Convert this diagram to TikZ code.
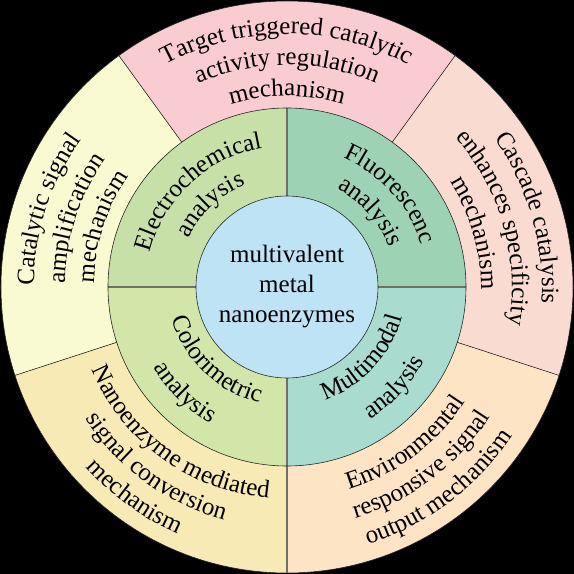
\documentclass[tikz,border=0pt]{standalone}
\usepackage{fontspec}
\setmainfont{Liberation Serif}
\usetikzlibrary{decorations.text}

\definecolor{targetpink}{RGB}{248,204,209}
\definecolor{cascadepeach}{RGB}{250,219,209}
\definecolor{envorange}{RGB}{253,228,196}
\definecolor{nanoyellow}{RGB}{247,234,181}
\definecolor{catalyticyellow}{RGB}{250,250,210}
\definecolor{electrogreen}{RGB}{199,224,167}
\definecolor{fluorgreen}{RGB}{158,210,180}
\definecolor{colorigreen}{RGB}{211,230,169}
\definecolor{multiteal}{RGB}{169,220,206}
\definecolor{coreblue}{RGB}{190,227,245}
\definecolor{divgrey}{RGB}{110,112,105}

\newcommand\ringfont{\fontsize{25}{30}\selectfont}

\tikzset{
  arctext/.style={decorate, decoration={text along path, text align=center, text={|\ringfont|#1}}},
  rim/.style={draw=black!85, line width=0.6pt},
  divider/.style={draw=divgrey, line width=1.2pt},
}

\begin{document}
\begin{tikzpicture}[x=1pt, y=1pt]
    \fill[black] (-287,-287) rectangle (287,287);
    \useasboundingbox (-287,-287) rectangle (287,287);

    % outer sectors
    \fill[targetpink] (0,0) -- (54:286) arc[start angle=54, end angle=126, radius=286] -- cycle;
    \fill[catalyticyellow] (0,0) -- (126:286) arc[start angle=126, end angle=198, radius=286] -- cycle;
    \fill[nanoyellow] (0,0) -- (198:286) arc[start angle=198, end angle=270, radius=286] -- cycle;
    \fill[envorange] (0,0) -- (270:286) arc[start angle=270, end angle=342, radius=286] -- cycle;
    \fill[cascadepeach] (0,0) -- (-18:286) arc[start angle=-18, end angle=54, radius=286] -- cycle;
    \draw[rim] (0,0) circle (286);
    \draw[rim] (54:179) -- (54:286);
    \draw[rim] (126:179) -- (126:286);
    \draw[rim] (198:179) -- (198:286);
    \draw[divider] (270:179) -- (270:286);
    \draw[rim] (342:179) -- (342:286);

    % middle ring
    \fill[fluorgreen] (0,0) -- (0:179) arc[start angle=0, end angle=90, radius=179] -- cycle;
    \fill[electrogreen] (0,0) -- (90:179) arc[start angle=90, end angle=180, radius=179] -- cycle;
    \fill[colorigreen] (0,0) -- (180:179) arc[start angle=180, end angle=270, radius=179] -- cycle;
    \fill[multiteal] (0,0) -- (270:179) arc[start angle=270, end angle=360, radius=179] -- cycle;
    \draw[divider] (-179,0) -- (179,0);
    \draw[divider] (0,-179) -- (0,179);
    \draw[rim] (0,0) circle (179);

    % core
    \fill[coreblue] (0,0) circle (91);
    \draw[rim] (0,0) circle (91);
    \node[align=center, inner sep=0pt, font=\ringfont] (core) at (0,0) {multivalent\\metal\\nanoenzymes};

    % outer texts
    \path[arctext={Target triggered catalytic}] (126:253) arc[start angle=126, end angle=54, radius=253];
    \path[arctext={activity regulation}] (126:222) arc[start angle=126, end angle=54, radius=222];
    \path[arctext={mechanism}] (126:191) arc[start angle=126, end angle=54, radius=191];

    \path[arctext={Catalytic signal}] (198:253) arc[start angle=198, end angle=126, radius=253];
    \path[arctext={amplification}] (198:222) arc[start angle=198, end angle=126, radius=222];
    \path[arctext={mechanism}] (198:193) arc[start angle=198, end angle=126, radius=193];

    \path[arctext={Cascade catalysis}] (52:255) arc[start angle=52, end angle=-20, radius=255];
    \path[arctext={enhances specificity}] (52:225) arc[start angle=52, end angle=-20, radius=225];
    \path[arctext={mechanism}] (52:194) arc[start angle=52, end angle=-20, radius=194];

    \path[arctext={Nanoenzyme mediated}] (198:212) arc[start angle=198, end angle=270, radius=212];
    \path[arctext={signal conversion}] (198:241) arc[start angle=198, end angle=270, radius=241];
    \path[arctext={mechanism}] (198:270) arc[start angle=198, end angle=270, radius=270];

    \path[arctext={Environmental}] (271:212) arc[start angle=271, end angle=343, radius=212];
    \path[arctext={responsive signal}] (271:241) arc[start angle=271, end angle=343, radius=241];
    \path[arctext={output mechanism}] (271:270) arc[start angle=271, end angle=343, radius=270];

    % middle texts
    \path[arctext={Electrochemical}] (178:141) arc[start angle=178, end angle=88, radius=141];
    \path[arctext={analysis}] (178:110) arc[start angle=178, end angle=88, radius=110];
    \path[arctext={Fluorescenc}] (87:141) arc[start angle=87, end angle=-3, radius=141];
    \path[arctext={analysis}] (87:110) arc[start angle=87, end angle=-3, radius=110];
    \path[arctext={Colorimetric}] (181:119) arc[start angle=181, end angle=271, radius=119];
    \path[arctext={analysis}] (181:156) arc[start angle=181, end angle=271, radius=156];
    \path[arctext={Multimodal}] (272:119) arc[start angle=272, end angle=362, radius=119];
    \path[arctext={analysis}] (272:156) arc[start angle=272, end angle=362, radius=156];
\end{tikzpicture}
\end{document}
